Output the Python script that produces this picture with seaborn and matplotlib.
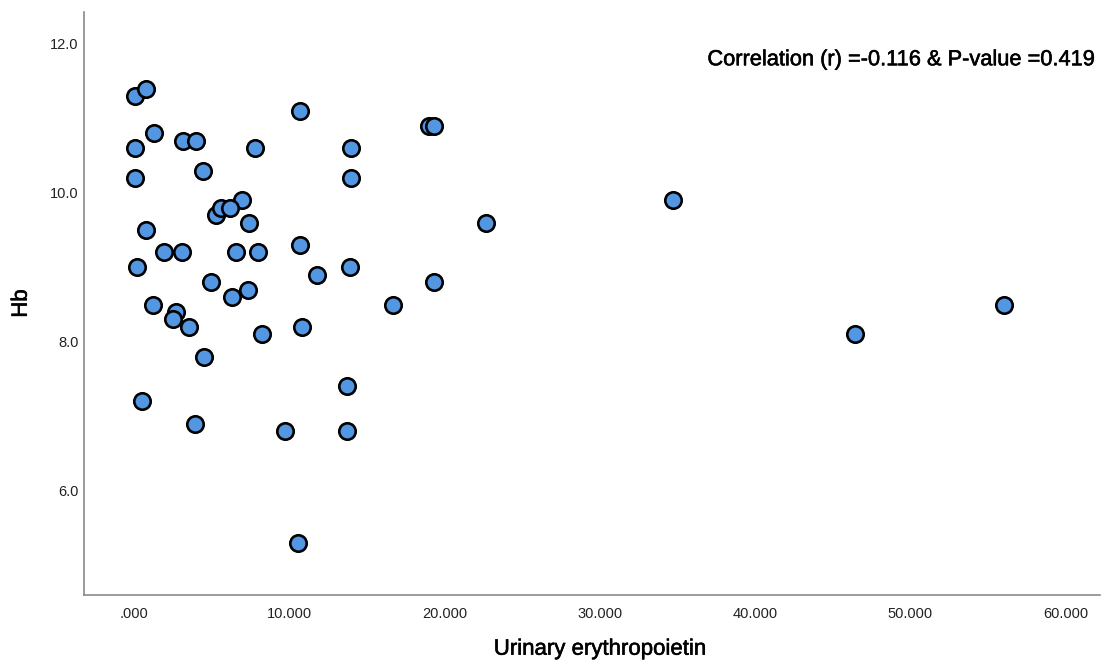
import pandas as pd
import matplotlib
matplotlib.use("Agg")
import matplotlib.pyplot as plt
import matplotlib.patheffects as pe
import seaborn as sns

# --------------------------
# data
# --------------------------
urinary_epo = [0.05, 0.77, 10.7, 19.0, 19.3, 1.29, 0.06, 3.2, 4.0, 7.8,
               14.0, 0.06, 4.43, 14.0, 6.95, 5.3, 5.6, 6.2, 7.42, 0.77,
               1.94, 3.12, 6.58, 8.0, 10.73, 0.19, 13.95, 11.8, 19.3, 4.97,
               6.32, 7.35, 1.22, 16.7, 2.7, 2.54, 3.59, 8.26, 10.86, 4.54,
               13.7, 0.56, 3.94, 9.74, 13.7, 10.56, 22.7, 34.7, 46.4, 56.0]
hb = [11.3, 11.4, 11.1, 10.9, 10.9, 10.8, 10.6, 10.7, 10.7, 10.6,
      10.6, 10.2, 10.3, 10.2, 9.9, 9.7, 9.8, 9.8, 9.6, 9.5,
      9.2, 9.2, 9.2, 9.2, 9.3, 9.0, 9.0, 8.9, 8.8, 8.8,
      8.6, 8.7, 8.5, 8.5, 8.4, 8.3, 8.2, 8.1, 8.2, 7.8,
      7.4, 7.2, 6.9, 6.8, 6.8, 5.3, 9.6, 9.9, 8.1, 8.5]

x_ticks = [0, 10, 20, 30, 40, 50, 60]
x_tick_labels = [".000", "10.000", "20.000", "30.000", "40.000", "50.000", "60.000"]
y_ticks = [6, 8, 10, 12]
y_tick_labels = ["6.0", "8.0", "10.0", "12.0"]

annot_text = "Correlation (r) =-0.116 & P-value =0.419"

df = pd.DataFrame({"Urinary erythropoietin": urinary_epo, "Hb": hb})

# --------------------------
# style
# --------------------------
sns.set_style("white")
plt.rcParams['font.family'] = ['Liberation Sans', 'DejaVu Sans']

fig = plt.figure(figsize=(11.04, 6.65), dpi=100)
ax = fig.add_axes([0.0761, 0.1053, 0.9203, 0.8767])

sns.scatterplot(data=df, x="Urinary erythropoietin", y="Hb", ax=ax,
                s=140, color="#5397E3", edgecolor="black", linewidth=1.9,
                zorder=3)

ax.set_xlim(-3.2, 62.2)
ax.set_ylim(4.6, 12.43)
ax.set_xticks(x_ticks)
ax.set_xticklabels(x_tick_labels)
ax.set_yticks(y_ticks)
ax.set_yticklabels(y_tick_labels)
ax.tick_params(axis="both", length=0, labelsize=10.5, colors="#222222")
ax.tick_params(axis="x", pad=9)
ax.tick_params(axis="y", pad=4)

sns.despine(ax=ax)
for side in ["left", "bottom"]:
    ax.spines[side].set_color("#8a8a8a")
    ax.spines[side].set_linewidth(1.2)

# a thin stroke gives the semi-bold look of the original titles
heavy = [pe.withStroke(linewidth=0.4, foreground="black")]

xl = ax.set_xlabel("Urinary erythropoietin", fontsize=16, color="black")
yl = ax.set_ylabel("Hb", fontsize=16, color="black", labelpad=13)
xl.set_path_effects(heavy)
yl.set_path_effects(heavy)
ax.xaxis.set_label_coords(0.508, -0.075)

ax.text(0.993, 0.918, annot_text, transform=ax.transAxes, ha="right", va="center",
        fontsize=15.7, color="black", path_effects=heavy)

fig.savefig("out.png", dpi=100)
